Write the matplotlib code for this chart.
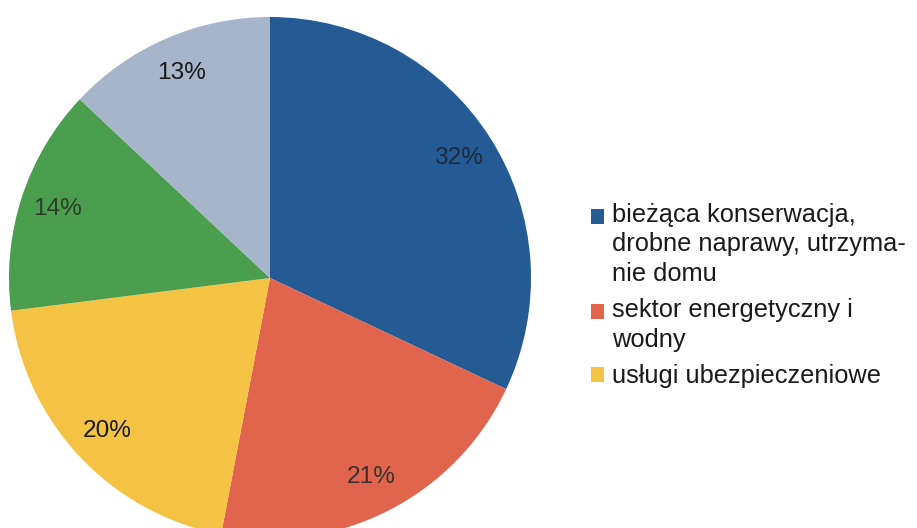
import matplotlib
matplotlib.use("Agg")
import matplotlib.pyplot as plt

# ---- data ----
legend_labels = [
    "bieżąca konserwacja,\ndrobne naprawy, utrzyma-\nnie domu",
    "sektor energetyczny i\nwodny",
    "usługi ubezpieczeniowe",
]
values = [32, 21, 20, 14, 13]
colors = ["#255b95", "#e0654c", "#f5c344", "#4b9e4e", "#a7b5cb"]
label_colors = ["#1d2b3e", "#3a3030", "#1a1a1a", "#2a3f2a", "#1a1a1a"]

W, H = 917, 528
fig = plt.figure(figsize=(W / 100, H / 100), dpi=100)
fig.patch.set_facecolor("white")

# pie geometry (pixels)
cx, cy, R, pad = 270, 278, 261, 1.04
ax = fig.add_axes([(cx - R * pad) / W, (H - cy - R * pad) / H,
                   2 * R * pad / W, 2 * R * pad / H])

wedges, texts, autotexts = ax.pie(
    values, colors=colors, startangle=90, counterclock=False,
    autopct=lambda p: f"{p:.0f}%", pctdistance=0.855, radius=1,
    wedgeprops=dict(linewidth=0),
    textprops=dict(fontsize=17.6, family="Liberation Sans"),
)
for t, c in zip(autotexts, label_colors):
    t.set_color(c)
ax.set_xlim(-pad, pad)
ax.set_ylim(-pad, pad)
ax.set_aspect("auto")
ax.axis("off")

fs = 18.3
leg = fig.legend(
    wedges[:3], legend_labels, loc="upper left",
    bbox_to_anchor=(591 / W, (H - 203) / H), bbox_transform=fig.transFigure,
    frameon=False, borderpad=0, borderaxespad=0,
    handlelength=0.52, handleheight=0.52, handletextpad=0.31,
    labelspacing=0.5,
    prop=dict(family="Liberation Sans", size=fs),
)
line_sp_px = 28.7
for t in leg.get_texts():
    t.set_linespacing(1.28)
    t.set_color("#1a1a1a")
for h, lab in zip(leg.legend_handles, legend_labels):
    n = lab.count("\n") + 1
    h.set_y(h.get_y() + (n - 1) / 2 * line_sp_px * 72 / 100)

fig.savefig("out.png", dpi=100)
